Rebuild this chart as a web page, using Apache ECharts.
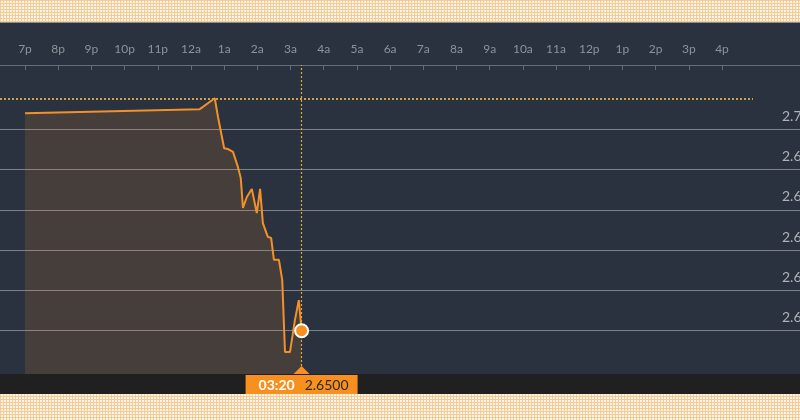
<!DOCTYPE html>
<html><head><meta charset="utf-8">
<script src="https://cdn.jsdelivr.net/npm/echarts@6/dist/echarts.min.js"></script>
<style>html,body{margin:0;padding:0;background:#f9e6c8}#c{width:800px;height:420px}</style>
</head><body><div id="c"></div>
<script>
// ---- data ----
const tickLabels = ['7p','8p','9p','10p','11p','12a','1a','2a','3a','4a','5a','6a','7a','8a','9a','10a','11a','12p','1p','2p','3p','4p'];
const times  = ['19:00','00:16','00:43','00:49','01:00','01:07','01:16','01:25','01:30','01:34','01:41','01:50','01:59','02:05','02:10','02:19','02:25','02:30','02:39','02:45','02:50','02:59','03:08','03:15','03:20'];
const prices = [2.7040, 2.7050, 2.7077, 2.7030, 2.6953, 2.6951, 2.6944, 2.6906, 2.6879, 2.6805, 2.6832, 2.6852, 2.6792, 2.6852, 2.6767, 2.6733, 2.6730, 2.6676, 2.6676, 2.6626, 2.6447, 2.6447, 2.6527, 2.6576, 2.6500];
const gridValues = [2.65, 2.66, 2.67, 2.68, 2.69, 2.70];
const highLineEnd = '16:56';

// minutes since 7p session start
function toMin(t){ const [h,m]=t.split(':').map(Number); return ((h*60+m) - 19*60 + 1440) % 1440; }

const X_MIN = -45.2, X_MAX = 1401;
const Y_MIN = 2.63925, Y_MAX = 2.71596;
const ORANGE = '#f7901e';
const lastTime = times[times.length-1];
const lastMin = toMin(lastTime);
const lastPrice = prices[prices.length-1];
const high = Math.max(...prices);
const tickValues = tickLabels.map((_, i) => i * 60);

// cream dotted pattern
const pc = document.createElement('canvas'); pc.width = 3; pc.height = 3;
const pctx = pc.getContext('2d');
pctx.fillStyle = '#fdf4e6'; pctx.fillRect(0,0,3,3);
pctx.fillStyle = '#f2cc98'; pctx.fillRect(0,0,3,1); pctx.fillRect(0,0,1,3);

const chart = echarts.init(document.getElementById('c'), null, {renderer:'canvas'});
chart.setOption({
  animation: false,
  textStyle: {fontFamily: 'Lato'},
  graphic: [
    {type:'rect', z:-30, shape:{x:0,y:0,width:800,height:420}, style:{fill:{image:pc, repeat:'repeat'}}},
    {type:'rect', z:-20, shape:{x:0,y:22.5,width:800,height:352}, style:{fill:'#29323e'}},
    {type:'rect', z:-20, shape:{x:0,y:374,width:800,height:20}, style:{fill:'#202021'}}
  ],
  grid: {left:0, right:0, top:65, bottom:46, containLabel:false, outerBoundsMode:'none'},
  xAxis: {
    type:'value', position:'top', min:X_MIN, max:X_MAX,
    axisLine:{show:true, lineStyle:{color:'#646b74', width:1}},
    axisTick:{show:true, inside:true, length:5, customValues:tickValues, lineStyle:{color:'#646b74'}},
    axisLabel:{customValues:tickValues, formatter:v => tickLabels[Math.round(v/60)], color:'#8c939b', fontSize:12, margin:10, fontFamily:'Lato'},
    splitLine:{show:false}
  },
  yAxis: {
    type:'value', position:'right', min:Y_MIN, max:Y_MAX, scale:true,
    axisLine:{show:false},
    axisTick:{show:false, customValues:gridValues},
    axisLabel:{customValues:gridValues, formatter:v => v.toFixed(4), color:'#aeb3b9', fontSize:14,
      inside:false, margin:-18, align:'left', verticalAlign:'bottom', padding:[0,0,6,0], fontFamily:'Lato'},
    splitLine:{show:true, lineStyle:{color:'#7d828a', width:1}}
  },
  series: [
    {
      type:'line', symbol:'none', smooth:false,
      data: times.map((t,i) => [toMin(t), prices[i]]),
      lineStyle:{color:'#f39129', width:2},
      areaStyle:{color:'rgba(243,145,41,0.2)', origin:'start'},
      markLine:{
        silent:true, symbol:['none','none'], animation:false,
        data:[
          [{coord:[X_MIN, high], lineStyle:{color:'#cfa24a', width:2, type:[2,2]}, label:{show:false}},
           {coord:[toMin(highLineEnd), high]}],
          {xAxis:lastMin, lineStyle:{color:'#e2a83c', width:1.2, type:[2,2]},
           label:{show:true, position:'start', distance:1,
             formatter: '{t|' + lastTime + '}{v|' + lastPrice.toFixed(4) + '}',
             backgroundColor:ORANGE, padding:[3,9,2,13],
             rich:{
               t:{color:'#ffffff', fontWeight:'bold', fontSize:14, fontFamily:'Lato', padding:[0,10,0,0]},
               v:{color:'#2a2a2a', fontSize:14, fontFamily:'Lato'}
             }}}
        ]
      },
      markPoint:{
        silent:true, animation:false,
        data:[{coord:[lastMin, Y_MIN], symbol:'triangle', symbolSize:[16,8], symbolOffset:[0,-4],
               itemStyle:{color:ORANGE}, label:{show:false}}]
      }
    },
    {
      type:'scatter', z:5, silent:true,
      data:[[lastMin, lastPrice]],
      symbolSize:13,
      itemStyle:{color:ORANGE, borderColor:'#ffffff', borderWidth:2, opacity:1}
    }
  ]
});
</script></body></html>
